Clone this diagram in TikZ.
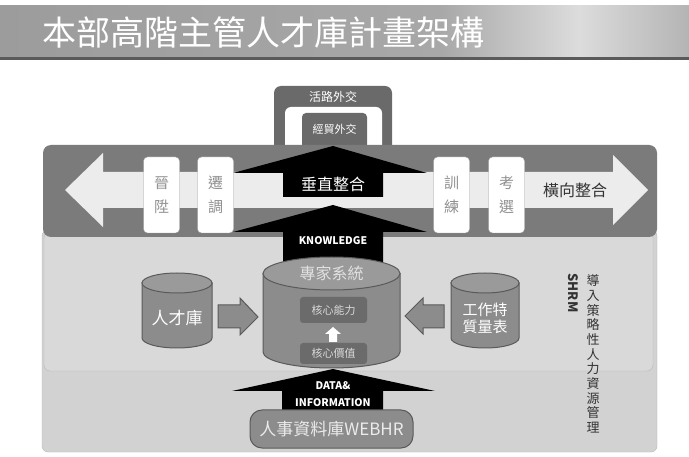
\documentclass[tikz,border=0pt]{standalone}
\usepackage{fontspec}
\setmainfont{Noto Sans CJK TC}
\definecolor{titleA}{HTML}{9C9C9C}
\definecolor{titleB}{HTML}{A8A8A8}
\definecolor{titleC}{HTML}{DCDCDC}
\definecolor{titleD}{HTML}{B4B4B4}
\definecolor{titleline}{HTML}{5A5A5A}
\definecolor{panelA}{HTML}{D2D2D2}
\definecolor{panelB}{HTML}{D9D9D9}
\definecolor{panelEdge}{HTML}{B8B8B8}
\definecolor{bandgray}{HTML}{7B7B7B}
\definecolor{topgray}{HTML}{6A6A6A}
\definecolor{lightarrow}{HTML}{ECECEC}
\definecolor{boxedge}{HTML}{A0A0A0}
\definecolor{boxtext}{HTML}{909090}
\definecolor{darktext}{HTML}{333333}
\definecolor{cylgray}{HTML}{8C8C8C}
\definecolor{cyltopgray}{HTML}{9A9A9A}
\definecolor{cyledge}{HTML}{5A5A5A}
\definecolor{coregray}{HTML}{6B6B6B}
\pgfdeclarehorizontalshading{titlebar}{100bp}{color(0bp)=(titleA); color(25bp)=(titleA); color(57bp)=(titleB); color(67bp)=(titleC); color(75bp)=(titleD); color(100bp)=(titleD)}

\begin{document}
\begin{tikzpicture}[x=1pt,y=-1pt,
  cyl/.style={fill=cylgray,draw=cyledge,line width=1pt},
  cyltop/.style={fill=cyltopgray,draw=cyledge,line width=1pt},
  slimbox/.style={draw=boxedge,fill=white,rounded corners=4pt,minimum width=36pt,
    minimum height=76pt,text=boxtext,font=\fontsize{15}{24}\selectfont,align=center,inner sep=0pt},
  corebox/.style={fill=coregray,rounded corners=3pt,minimum width=67pt,text=white!85!black,
    font=\fontsize{11}{11}\selectfont,inner sep=0pt},
  lbl/.style={text=white,inner sep=0pt}]
\useasboundingbox (0,0) rectangle (689,457);
\fill[white] (0,0) rectangle (689,457);

% title bar
\shade[shading=titlebar] (0,6) rectangle (689,57);
\fill[titleline] (0,57) rectangle (689,60);
\node[lbl,anchor=west,font=\fontsize{34}{34}\selectfont] (title) at (42,32) {本部高階主管人才庫計畫架構};

% lower panels
\filldraw[fill=panelA,draw=panelEdge,rounded corners=6pt] (42,230) rectangle (657,452);
\filldraw[fill=panelB,draw=panelEdge,rounded corners=6pt] (44,232) rectangle (653,371);

% diplomacy box on top
\fill[topgray,rounded corners=7pt] (274,86) rectangle (392,160);
\fill[white,rounded corners=6pt] (285,107) rectangle (382,160);
\fill[topgray,rounded corners=4pt] (302,113) rectangle (367,160);
\node[lbl,font=\fontsize{12}{12}\selectfont] (huolu) at (333,97) {活路外交};
\node[lbl,font=\fontsize{11}{11}\selectfont] (jingmao) at (334.5,129) {經貿外交};

% band with the two-way arrow
\fill[bandgray,rounded corners=8pt] (43,145) rectangle (657,237);
\fill[lightarrow] (65,190) -- (103,153) -- (103,172) -- (613,172) -- (613,155) -- (648,190)
  -- (613,225) -- (613,208) -- (103,208) -- (103,227) -- cycle;
\node[slimbox] (jinsheng) at (161.5,195) {晉\\陞};
\node[slimbox] (qiandiao) at (215.5,195) {遷\\調};
\node[slimbox] (xunlian) at (451.5,195) {訓\\練};
\node[slimbox] (kaoxuan) at (506.5,195) {考\\選};
\node[text=darktext,inner sep=0pt,font=\fontsize{16}{16}\selectfont] (hengxiang) at (575,190) {橫向整合};

% black arrows
\fill[black] (333,146) -- (427,173) -- (383,173) -- (383,197) -- (283,197) -- (283,173) -- (233,173) -- cycle;
\node[lbl,font=\fontsize{16}{16}\selectfont] (chuizhi) at (333,184) {垂直整合};
\fill[black] (333,205) -- (427,232) -- (383,232) -- (383,262) -- (283,262) -- (283,232) -- (233,232) -- cycle;
\node[lbl,font=\bfseries\fontsize{10.5}{10.5}\selectfont] (knowledge) at (333,241) {KNOWLEDGE};
\fill[black] (333,369) -- (435,391) -- (383,391) -- (383,412) -- (282,412) -- (282,391) -- (232,391) -- cycle;
\node[lbl,align=center,font=\bfseries\fontsize{10.5}{17}\selectfont] (data) at (333,394) {DATA\&\\INFORMATION};

% expert system
\path[cyl] (263,273.5) -- (263,352) arc[start angle=180,end angle=0,x radius=68.5,y radius=16] -- (400,273.5) -- cycle;
\draw[cyltop] (331.5,273.5) ellipse [x radius=68.5,y radius=16.5];
\node[text=white!88!black,inner sep=0pt,font=\fontsize{16}{16}\selectfont] (zhuanjia) at (331.5,273) {專家系統};
\node[corebox,minimum height=26pt] (nengli) at (333.5,310) {核心能力};
\node[corebox,minimum height=21pt] (jiazhi) at (333.5,353.5) {核心價值};
\fill[white] (333,327) -- (341,334) -- (337,334) -- (337,342) -- (329,342) -- (329,334) -- (325,334) -- cycle;

% talent pool
\path[cyl] (142,283) -- (142,338) arc[start angle=180,end angle=0,x radius=35,y radius=10] -- (212,283) -- cycle;
\draw[cyltop] (177,283) ellipse [x radius=35,y radius=10];
\node[lbl,font=\fontsize{17}{17}\selectfont] (rencai) at (177,318) {人才庫};
\path[cyl] (218,305) -- (240,305) -- (240,298) -- (258,317) -- (240,335) -- (240,328) -- (218,328) -- cycle;

% job trait scale
\path[cyl] (451,283) -- (451,338) arc[start angle=180,end angle=0,x radius=34,y radius=10] -- (519,283) -- cycle;
\draw[cyltop] (485,283) ellipse [x radius=34,y radius=10];
\node[lbl,align=center,font=\fontsize{15}{17}\selectfont] (gongzuo) at (485,318) {工作特\\質量表};
\path[cyl] (444,305) -- (423,305) -- (423,298) -- (405,316) -- (423,334) -- (423,328) -- (444,328) -- cycle;

% HR database
\node[draw=cyledge,fill=cylgray,line width=1pt,rounded corners=12pt,minimum width=163pt,minimum height=38pt,
  text=white!92!black,font=\fontsize{17}{17}\selectfont] (webhr) at (331.5,429) {人事資料庫WEBHR};

% side labels
\node[rotate=-90,text=darktext,inner sep=0pt,font=\bfseries\fontsize{13}{13}\selectfont] (shrm) at (573,293) {SHRM};
\node[align=center,text=darktext,inner sep=0pt,font=\fontsize{13}{14.7}\selectfont] (daoru) at (593,354)
  {導\\入\\策\\略\\性\\人\\力\\資\\源\\管\\理};
\end{tikzpicture}
\end{document}
